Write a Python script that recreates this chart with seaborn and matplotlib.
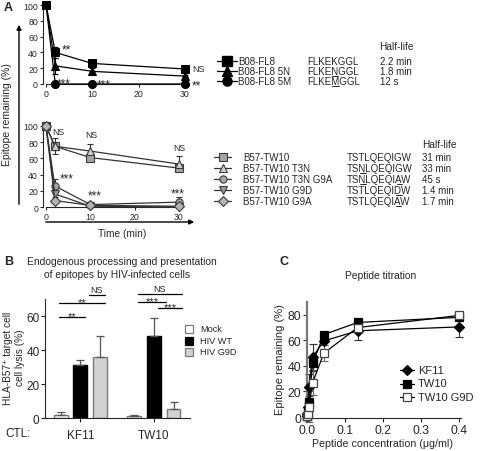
import numpy as np
import pandas as pd
import matplotlib
matplotlib.use("Agg")
import matplotlib.pyplot as plt
import seaborn as sns
from matplotlib.patches import Rectangle

# ---------------- data ----------------
time_min = [0, 2, 10, 30]

fl8_names = ["B08-FL8", "B08-FL8 5N", "B08-FL8 5M"]
fl8_seqs = ["FLKEKGGL", "FLKENGGL", "FLKEMGGL"]
fl8_underline = [[], [4], [4]]
fl8_halflife = ["2.2 min", "1.8 min", "12 s"]
fl8_values = [[100, 40, 26, 19], [100, 23, 16, 10], [100, 0, 0, 0]]
fl8_errors = [[0, 7, 5, 3], [0, 10, 4, 1.5], [0, 1, 1, 1]]

tw10_names = ["B57-TW10", "B57-TW10 T3N", "B57-TW10 T3N G9A", "B57-TW10 G9D", "B57-TW10 G9A"]
tw10_seqs = ["TSTLQEQIGW", "TSNLQEQIGW", "TSNLQEQIAW", "TSTLQEQIDW", "TSTLQEQIAW"]
tw10_underline = [[], [2], [2, 8], [8], [8]]
tw10_halflife = ["31 min", "33 min", "45 s", "1.4 min", "1.7 min"]
tw10_values = [[100, 75, 61, 48], [100, 75, 69, 53], [100, 26, 3, 6], [100, 16, 1, 0], [100, 8, 2, 1]]
tw10_errors = [[0, 5, 3, 4], [0, 10, 9, 10], [0, 8, 2, 6], [0, 4, 1, 1], [0, 2, 1, 1]]

ctl_names = ["KF11", "TW10"]
target_names = ["Mock", "HIV WT", "HIV G9D"]
lysis_kf11 = [1.5, 31, 36]
lysis_tw10 = [1, 48.5, 5.5]
lysis_err_kf11 = [2, 3, 12]
lysis_err_tw10 = [1, 10.5, 4]

conc = [0.4, 0.1333, 0.0444, 0.0148, 0.0049, 0.0016, 0.00055, 0.00018]
titr_names = ["KF11", "TW10", "TW10 G9D"]
titr_kf11 = [70.5, 67.5, 59.5, 47, 23.5, 8, 2, 1]
titr_tw10 = [78, 74, 64.5, 42, 11.5, 3, 1, 0.5]
titr_g9d = [79.5, 70, 50, 27, 8, 2, 1, 0.5]
titr_err_kf11 = [7.5, 7, 3, 10, 10, 3, 1, 1]
titr_err_tw10 = [2, 2, 2, 6, 5, 2, 1, 1]
titr_err_g9d = [2, 4, 6, 10, 12, 3, 1, 1]

# ---------------- style ----------------
sns.set_style("ticks")
FAM = ["Liberation Sans", "DejaVu Sans"]
plt.rcParams["font.family"] = FAM
plt.rcParams["axes.linewidth"] = 0.8
plt.rcParams["xtick.major.width"] = 0.8
plt.rcParams["ytick.major.width"] = 0.8
plt.rcParams["xtick.major.size"] = 3
plt.rcParams["ytick.major.size"] = 3

W, H = 480, 452
fig = plt.figure(figsize=(W / 100, H / 100), dpi=100)


def add_ax(l, t, r, b):
    return fig.add_axes([l / W, 1 - b / H, (r - l) / W, (b - t) / H])


axA1 = add_ax(42.8, 6, 187.3, 85)
axA2 = add_ax(42.9, 127, 181.2, 208)
axB = add_ax(45, 300, 190, 419)
axC = add_ax(307, 303, 461, 419.3)

# ---------------- panel A top ----------------
top_markers = ["s", "^", "o"]
top_ms = [5.8, 6.3, 5.8]
for i, name in enumerate(fl8_names):
    df = pd.DataFrame({"t": time_min, "v": fl8_values[i]})
    sns.lineplot(data=df, x="t", y="v", ax=axA1, color="black", marker=top_markers[i],
                 markersize=top_ms[i], markeredgecolor="black", linewidth=0.9, clip_on=False, zorder=3)
    axA1.errorbar(time_min, fl8_values[i], yerr=fl8_errors[i], fmt="none", ecolor="black",
                  elinewidth=0.8, capsize=2.5, capthick=0.8, clip_on=False, zorder=2)
axA1.set_xlim(-0.7, 30.5)
axA1.set_ylim(0, 100)

# ---------------- panel A bottom ----------------
bot_markers = ["s", "^", "o", "v", "D"]
bot_fill = ["#a4a4a4", "#cfcfcf", "#a8a8a8", "#9c9c9c", "#b4b4b4"]
bot_msize = [5.2, 5.8, 5.2, 5.8, 4.8]
for i, name in enumerate(tw10_names):
    df = pd.DataFrame({"t": time_min, "v": tw10_values[i]})
    sns.lineplot(data=df, x="t", y="v", ax=axA2, color="#333333", marker=bot_markers[i],
                 markersize=bot_msize[i], markerfacecolor=bot_fill[i], markeredgecolor="#3a3a3a",
                 markeredgewidth=0.8, linewidth=0.9, clip_on=False, zorder=3)
    axA2.errorbar(time_min, tw10_values[i], yerr=tw10_errors[i], fmt="none", ecolor="#333333",
                  elinewidth=0.8, capsize=2.5, capthick=0.8, clip_on=False, zorder=2)
axA2.set_xlim(-0.7, 30.5)
axA2.set_ylim(0, 100)

for ax in (axA1, axA2):
    sns.despine(ax=ax)
    ax.set_xticks([0, 10, 20, 30])
    ax.set_yticks([0, 20, 40, 60, 80, 100])
    ax.tick_params(labelsize=6.3, pad=1, length=2.5)
    ax.set_xlabel("")
    ax.set_ylabel("")
    ax.spines["bottom"].set_bounds(0, 30)

def star(ax, x, y, s, size=8.5, dy=-2.5):
    ax.annotate(s, (x, y), xytext=(0, dy), textcoords="offset points", ha="left",
                va="center", fontsize=size, annotation_clip=False)

star(axA1, 3.4, 48, "**")
star(axA1, 31.5, 20, "NS", size=6.5, dy=0)
star(axA1, 31.5, 3, "**")
star(axA1, 2.3, 5, "***")
star(axA1, 11, 4, "***")

star(axA2, 1.5, 93, "NS", size=6.2, dy=0)
star(axA2, 8.8, 89, "NS", size=6.2, dy=0)
star(axA2, 28.8, 74, "NS", size=6.2, dy=0)
star(axA2, 3.2, 40, "***")
star(axA2, 9.5, 18, "***")
star(axA2, 28.2, 21, "***")

# ---------------- panel B ----------------
rows = []
for c, vals in zip(ctl_names, [lysis_kf11, lysis_tw10]):
    for t, v in zip(target_names, vals):
        rows.append({"CTL": c, "target": t, "lysis": v})
dfB = pd.DataFrame(rows)
bar_fill = ["white", "black", "#d2d2d2"]
bar_edge = ["#7a7a7a", "black", "#7a7a7a"]
sns.barplot(data=dfB, x="CTL", y="lysis", hue="target", palette=bar_fill, errorbar=None,
            gap=0.3, legend=False, ax=axB, linewidth=1, edgecolor="black")
errs = [lysis_err_kf11, lysis_err_tw10]
bar_conts = list(axB.containers)
for hi, cont in enumerate(bar_conts):
    for ci, bar in enumerate(cont.patches):
        bar.set_edgecolor(bar_edge[hi])
        xc = bar.get_x() + bar.get_width() / 2
        h = bar.get_height()
        axB.errorbar([xc], [h], yerr=[[0], [errs[ci][hi]]], fmt="none", ecolor="#555555",
                     elinewidth=0.9, capsize=3, capthick=0.9, zorder=1)
axB.set_xlim(-0.48, 1.49)
axB.set_ylim(0, 70)
axB.set_yticks([0, 20, 40, 60])
axB.tick_params(axis="y", labelsize=8.5, pad=1)
axB.tick_params(axis="x", labelsize=8.5, pad=5)
axB.set_xlabel("")
axB.set_ylabel("")
sns.despine(ax=axB)

def bracket(ax, x0, x1, y, s, ty, size=8):
    ax.plot([x0, x1], [y, y], color="black", lw=0.9, clip_on=False)
    ax.text((x0 + x1) / 2, ty, s, ha="center", va="center", fontsize=size)

bracket(axB, -0.29, 0.06, 59.4, "**", 60.2)
bracket(axB, -0.29, 0.33, 67.6, "**", 68.4)
bracket(axB, 0.12, 0.33, 72.6, "NS", 75.8, size=6.5)
bracket(axB, 0.78, 1.375, 73, "NS", 76.2, size=6.5)
bracket(axB, 0.78, 1.17, 68, "***", 68.8)
bracket(axB, 1.06, 1.375, 64.7, "***", 65.5)

# ---------------- panel C ----------------
c_series = [titr_kf11, titr_tw10, titr_g9d]
c_errs = [titr_err_kf11, titr_err_tw10, titr_err_g9d]
c_markers = ["D", "s", "s"]
c_face = ["black", "black", "white"]
c_edge = ["black", "black", "#444444"]
c_ms = [5, 5.5, 5.5]
for i, name in enumerate(titr_names):
    df = pd.DataFrame({"c": conc, "v": c_series[i]})
    axC.errorbar(conc, c_series[i], yerr=c_errs[i], fmt="none", ecolor="#333333" if i < 2 else "#666666",
                 elinewidth=0.8, capsize=3, capthick=0.8, zorder=2, clip_on=False)
    sns.lineplot(data=df, x="c", y="v", ax=axC, color="black", marker=c_markers[i], markersize=c_ms[i],
                 markerfacecolor=c_face[i], markeredgecolor=c_edge[i], markeredgewidth=0.9,
                 linewidth=0.9, zorder=3 + i, clip_on=False)
axC.set_xlim(0, 0.405)
axC.set_ylim(-1, 90)
axC.set_xticks([0, 0.1, 0.2, 0.3, 0.4])
axC.set_xticklabels(["0.0", "0.1", "0.2", "0.3", "0.4"])
axC.set_yticks([0, 20, 40, 60, 80])
axC.tick_params(labelsize=8.8, pad=1)
axC.set_xlabel("")
axC.set_ylabel("")
sns.despine(ax=axC)
axC.spines["left"].set_color("#777777")
axC.spines["left"].set_linewidth(1.6)

# ---------------- overlay (text, legends, arrows) ----------------
ov = fig.add_axes([0, 0, 1, 1])
ov.set_xlim(0, W)
ov.set_ylim(H, 0)
ov.axis("off")
renderer = fig.canvas.get_renderer()


def txt(x, y, s, size=7, **kw):
    kw.setdefault("ha", "left")
    kw.setdefault("va", "center")
    return ov.text(x, y, s, fontsize=size, **kw)


def underlined(x, y, s, idxs, size=7):
    txt(x, y, s, size)
    for i in idxs:
        if i > 0:
            t1 = ov.text(x, y, s[:i], fontsize=size, ha="left", va="center")
            w1 = t1.get_window_extent(renderer).width
            t1.remove()
        else:
            w1 = 0
        t2 = ov.text(x, y, s[:i + 1], fontsize=size, ha="left", va="center")
        w2 = t2.get_window_extent(renderer).width
        t2.remove()
        ov.plot([x + w1 + 0.5, x + w2 - 0.3], [y + 4.8, y + 4.8], color="black", lw=0.6)


# panel letters and titles
txt(4, 8, "A", 9, weight="bold")
txt(4, 262, "B", 9, weight="bold")
txt(279, 262, "C", 9, weight="bold")
txt(122, 262, "Endogenous processing and presentation", 7.4, ha="center")
txt(117, 275, "of epitopes by HIV-infected cells", 7.4, ha="center")
txt(381, 276, "Peptide titration", 7.4, ha="center")

# A axis labels / arrows
txt(7, 115, "Epitope remaining (%)", 7.5, ha="center", rotation=90)
ov.annotate("", xy=(19, 23), xytext=(19, 208),
            arrowprops=dict(arrowstyle="-|>", lw=1, color="black", mutation_scale=7))
ov.annotate("", xy=(197, 223), xytext=(43, 223),
            arrowprops=dict(arrowstyle="-|>", lw=1, color="black", mutation_scale=7))
txt(122, 234, "Time (min)", 7.3, ha="center")

# A top legend
txt(379, 47, "Half-life", 7.3)
for i, name in enumerate(fl8_names):
    y = 62 + 10 * i
    ov.plot([217, 237], [y, y], color="black", lw=0.9)
    ov.plot([227], [y], marker=top_markers[i], markersize=top_ms[i] + 0.8, color="black")
    txt(238, y, name, 7)
    underlined(307, y, fl8_seqs[i], fl8_underline[i])
    txt(380, y, fl8_halflife[i], 7)

# A bottom legend
txt(422, 145, "Half-life", 7.3)
for i, name in enumerate(tw10_names):
    y = 158 + 11 * i
    ov.plot([214, 231], [y, y], color="#333333", lw=0.9)
    ov.plot([222.5], [y], marker=bot_markers[i], markersize=bot_msize[i],
            markerfacecolor=bot_fill[i], markeredgecolor="#3a3a3a", markeredgewidth=0.8)
    txt(243, y, name, 7)
    underlined(347, y, tw10_seqs[i], tw10_underline[i])
    txt(422, y, tw10_halflife[i], 7)

# B labels and legend
txt(14, 358, "HLA-B57\u207a target cell\ncell lysis (%)", 7.3, ha="center", rotation=90,
    linespacing=1.15, family=FAM)
txt(5, 434, "CTL:", 8.5)
for i, name in enumerate(target_names):
    y = 330 + 11.5 * i
    ov.add_patch(Rectangle((185, y - 4), 8, 8, facecolor=bar_fill[i], edgecolor=bar_edge[i], lw=0.9))
    txt(200, y, name, 6.6)

# C labels and legend
txt(280, 360, "Epitope remaining (%)", 8, ha="center", rotation=90)
txt(383, 444, "Peptide concentration (\u03bcg/ml)", 7.7, ha="center")
for i, name in enumerate(titr_names):
    y = 371 + 13.5 * i
    ov.plot([400, 414], [y, y], color="black", lw=0.9)
    ov.plot([407], [y], marker=c_markers[i], markersize=c_ms[i], markerfacecolor=c_face[i],
            markeredgecolor=c_edge[i], markeredgewidth=0.9)
    txt(418, y, name, 8)

fig.savefig("out.png", dpi=100)
